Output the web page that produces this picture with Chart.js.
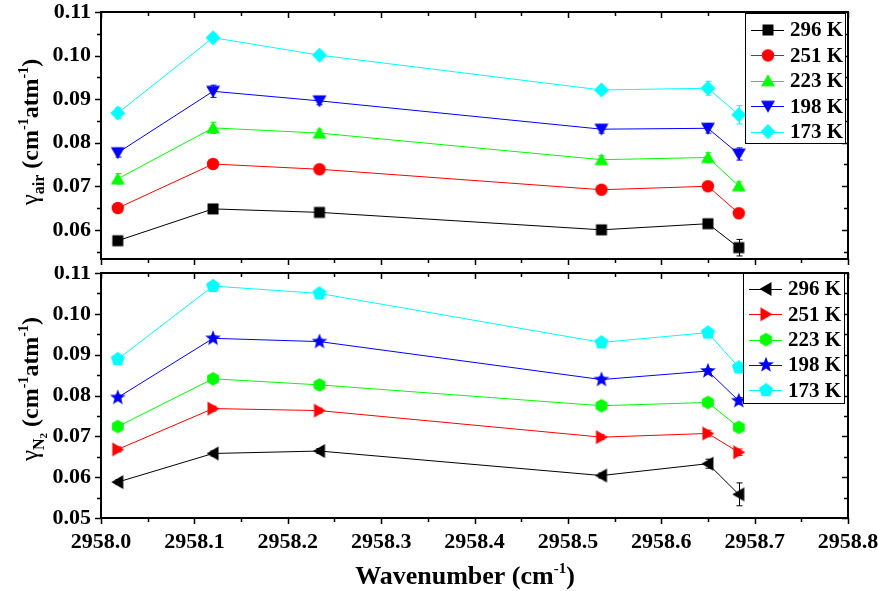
<!DOCTYPE html>
<html><head><meta charset="utf-8">
<script src="https://cdn.jsdelivr.net/npm/chart.js@4"></script>
<style>
html,body{margin:0;padding:0;background:#fff;}
#wrap{position:relative;width:878px;height:591px;}
canvas{position:absolute;left:0;}
#c1{top:0;width:878px;height:266px;}
#c2{top:266px;width:878px;height:325px;}
</style></head><body>
<div id="wrap"><canvas id="c1" width="878" height="266"></canvas><canvas id="c2" width="878" height="325"></canvas></div>
<script>
// ---------- data ----------
const xVals = [2958.018, 2958.120, 2958.234, 2958.536, 2958.650, 2958.683];
const seriesLabels = ['296 K', '251 K', '223 K', '198 K', '173 K'];
const xTicks = [2958.0, 2958.1, 2958.2, 2958.3, 2958.4, 2958.5, 2958.6, 2958.7, 2958.8];
const yTicksAir = [0.06, 0.07, 0.08, 0.09, 0.10, 0.11];
const yTicksN2 = [0.05, 0.06, 0.07, 0.08, 0.09, 0.10, 0.11];

// gamma_air
const air296 = [0.0575, 0.0648, 0.0640, 0.0600, 0.0614, 0.0559];
const air251 = [0.0650, 0.0751, 0.0739, 0.0692, 0.0700, 0.0638];
const air223 = [0.0717, 0.0834, 0.0822, 0.0761, 0.0766, 0.0701];
const air198 = [0.0777, 0.0918, 0.0896, 0.0831, 0.0833, 0.0774];
const air173 = [0.0868, 0.1041, 0.1001, 0.0921, 0.0925, 0.0864];
const errAir296 = [0.0006, 0.0006, 0.0006, 0.0006, 0.0008, 0.0019];
const errAir251 = [0.0006, 0.0006, 0.0006, 0.0006, 0.0006, 0.0008];
const errAir223 = [0.0012, 0.0013, 0.0009, 0.0009, 0.0011, 0.0009];
const errAir198 = [0.0010, 0.0014, 0.0009, 0.0009, 0.0011, 0.0014];
const errAir173 = [0.0012, 0.0009, 0.0009, 0.0007, 0.0016, 0.0021];

// gamma_N2
const n296 = [0.0588, 0.0658, 0.0664, 0.0604, 0.0633, 0.0558];
const n251 = [0.0668, 0.0768, 0.0763, 0.0698, 0.0707, 0.0661];
const n223 = [0.0724, 0.0841, 0.0826, 0.0775, 0.0783, 0.0722];
const n198 = [0.0795, 0.0940, 0.0932, 0.0839, 0.0860, 0.0787];
const n173 = [0.0889, 0.1068, 0.1050, 0.0930, 0.0954, 0.0869];
const errN296 = [0.0006, 0.0006, 0.0006, 0.0006, 0.0011, 0.0028];
const errN251 = [0.0006, 0.0006, 0.0006, 0.0006, 0.0008, 0.0008];
const errN223 = [0.0006, 0.0006, 0.0006, 0.0006, 0.0006, 0.0006];
const errN198 = [0.0006, 0.0006, 0.0006, 0.0006, 0.0006, 0.0008];
const errN173 = [0.0006, 0.0006, 0.0006, 0.0006, 0.0008, 0.0008];

const colors = ['#000000', '#ff0000', '#00ff00', '#0000ff', '#00ffff'];

// ---------- markers ----------
function mk(color, draw) {
  const c = document.createElement('canvas');
  c.width = 18; c.height = 18;
  const g = c.getContext('2d');
  g.fillStyle = color;
  g.beginPath();
  draw(g, 9);
  g.fill();
  return c;
}
function poly(g, pts) { g.moveTo(pts[0][0], pts[0][1]); for (let i = 1; i < pts.length; i++) g.lineTo(pts[i][0], pts[i][1]); g.closePath(); }
function regular(g, c, n, r, rot) { const p = []; for (let i = 0; i < n; i++) { const a = rot + i * 2 * Math.PI / n; p.push([c + r * Math.cos(a), c + r * Math.sin(a)]); } poly(g, p); }
function star(g, c, ro, ri) { const p = []; for (let i = 0; i < 10; i++) { const a = -Math.PI / 2 + i * Math.PI / 5; const r = i % 2 ? ri : ro; p.push([c + r * Math.cos(a), c + r * Math.sin(a)]); } poly(g, p); }

const airMarkers = [
  mk(colors[0], (g, c) => g.rect(c - 5.5, c - 5.5, 11, 11)),
  mk(colors[1], (g, c) => g.arc(c, c, 6.2, 0, Math.PI * 2)),
  mk(colors[2], (g, c) => poly(g, [[c, c - 6.5], [c + 7, c + 5.5], [c - 7, c + 5.5]])),
  mk(colors[3], (g, c) => poly(g, [[c, c + 6.5], [c + 7, c - 5.5], [c - 7, c - 5.5]])),
  mk(colors[4], (g, c) => poly(g, [[c, c - 7.5], [c + 7.5, c], [c, c + 7.5], [c - 7.5, c]]))
];
const n2Markers = [
  mk(colors[0], (g, c) => poly(g, [[c - 6.5, c], [c + 5.5, c - 7], [c + 5.5, c + 7]])),
  mk(colors[1], (g, c) => poly(g, [[c + 6.5, c], [c - 5.5, c - 7], [c - 5.5, c + 7]])),
  mk(colors[2], (g, c) => regular(g, c, 6, 6.8, -Math.PI / 2)),
  mk(colors[3], (g, c) => star(g, c, 8.3, 3.5)),
  mk(colors[4], (g, c) => regular(g, c, 5, 7.3, -Math.PI / 2))
];

function makeSets(arrs, errs, markers) {
  return arrs.map((a, i) => ({
    label: seriesLabels[i],
    data: a.map((v, k) => ({ x: xVals[k], y: v })),
    err: errs[i],
    borderColor: colors[i],
    backgroundColor: colors[i],
    borderWidth: 1,
    pointStyle: markers[i],
    pointRadius: 6,
    tension: 0,
    fill: false
  }));
}

// ---------- plugins ----------
const SERIF = '"Liberation Serif", "Times New Roman", serif';

const errPlugin = {
  id: 'errbars',
  beforeDatasetsDraw(chart) {
    const { ctx, scales: { x, y } } = chart;
    ctx.save();
    ctx.lineWidth = 1;
    chart.data.datasets.forEach(ds => {
      ctx.strokeStyle = ds.borderColor;
      ds.data.forEach((p, k) => {
        const e = ds.err[k];
        const px = Math.round(x.getPixelForValue(p.x)) + 0.5;
        const y1 = y.getPixelForValue(p.y - e), y2 = y.getPixelForValue(p.y + e);
        ctx.beginPath();
        ctx.moveTo(px, y1); ctx.lineTo(px, y2);
        ctx.moveTo(px - 3, y1); ctx.lineTo(px + 3, y1);
        ctx.moveTo(px - 3, y2); ctx.lineTo(px + 3, y2);
        ctx.stroke();
      });
    });
    ctx.restore();
  }
};

const framePlugin = {
  id: 'frame',
  afterDraw(chart, args, o) {
    const { ctx, chartArea: a, scales: { x, y } } = chart;
    ctx.save();
    ctx.strokeStyle = '#000';
    ctx.lineWidth = 1.5;
    const maj = 6, mino = 4;
    const xs = [];
    xTicks.forEach((v, i) => { xs.push([v, maj]); if (i < xTicks.length - 1) xs.push([(v + xTicks[i + 1]) / 2, mino]); });
    const yt = o.yTicks;
    const ys = [];
    yt.forEach((v, i) => { ys.push([v, maj]); if (i < yt.length - 1) ys.push([(v + yt[i + 1]) / 2, mino]); });
    const step = yt[1] - yt[0];
    if (yt[0] - step / 2 > y.min) ys.push([yt[0] - step / 2, mino]);
    ctx.beginPath();
    xs.forEach(([v, L]) => {
      const px = Math.round(x.getPixelForValue(v)) + 0.5;
      ctx.moveTo(px, a.bottom); ctx.lineTo(px, a.bottom + L);
      ctx.moveTo(px, a.top); ctx.lineTo(px, a.top + L);
    });
    ys.forEach(([v, L]) => {
      const py = Math.round(y.getPixelForValue(v)) + 0.5;
      ctx.moveTo(a.left, py); ctx.lineTo(a.left - L, py);
      ctx.moveTo(a.right, py); ctx.lineTo(a.right - L, py);
    });
    ctx.stroke();
    ctx.lineWidth = 2;
    ctx.strokeRect(a.left, a.top, a.right - a.left, a.bottom - a.top);
    ctx.restore();
  }
};

function drawRich(ctx, pieces, cx, base) {
  let w = 0;
  pieces.forEach(p => { ctx.font = p.f; p.w = ctx.measureText(p.t).width; w += p.w; });
  let xx = cx - w / 2;
  ctx.textBaseline = 'alphabetic';
  ctx.textAlign = 'left';
  pieces.forEach(p => { ctx.font = p.f; ctx.fillText(p.t, xx, base + (p.dy || 0)); xx += p.w; });
}

const titlePlugin = {
  id: 'titles',
  afterDraw(chart, args, o) {
    const ctx = chart.ctx;
    ctx.save();
    ctx.fillStyle = '#000';
    ctx.translate(o.yx, o.yc);
    ctx.rotate(-Math.PI / 2);
    drawRich(ctx, o.ypieces, 0, 0);
    ctx.restore();
    if (o.xpieces) {
      ctx.save();
      ctx.fillStyle = '#000';
      drawRich(ctx, o.xpieces, o.xc, o.xb);
      ctx.restore();
    }
  }
};

const legendPlugin = {
  id: 'boxlegend',
  afterDraw(chart, args, o) {
    const ctx = chart.ctx;
    ctx.save();
    ctx.fillStyle = '#fff';
    ctx.fillRect(o.x, o.y, o.w, o.h);
    ctx.strokeStyle = '#000';
    ctx.lineWidth = 1;
    ctx.strokeRect(o.x + 0.5, o.y + 0.5, o.w, o.h);
    chart.data.datasets.forEach((ds, i) => {
      const yy = o.y0 + i * o.dy;
      ctx.strokeStyle = ds.borderColor;
      ctx.lineWidth = 1;
      ctx.beginPath();
      ctx.moveTo(o.x + 6, Math.round(yy) + 0.5); ctx.lineTo(o.x + 39, Math.round(yy) + 0.5);
      ctx.stroke();
      const m = ds.pointStyle;
      ctx.drawImage(m, o.x + 23 - m.width / 2, yy - m.height / 2);
      ctx.fillStyle = '#000';
      ctx.font = 'bold 21px ' + SERIF;
      ctx.textBaseline = 'middle';
      ctx.textAlign = 'left';
      ctx.fillText(ds.label, o.x + 45, yy + 1);
    });
    ctx.restore();
  }
};

const tickFont = { family: SERIF, size: 22, weight: 'bold' };

function noOverflow(s) { s.paddingTop = 0; s.paddingBottom = 0; s.paddingLeft = 0; s.paddingRight = 0; }

function yScale(min, max, ticksArr) {
  return {
    type: 'linear', min: min, max: max,
    afterFit: s => { s.width = 101; noOverflow(s); },
    afterBuildTicks: s => { s.ticks = ticksArr.map(v => ({ value: v })); },
    grid: { display: false, drawTicks: false },
    border: { display: false },
    ticks: { color: '#000', font: tickFont, padding: 10, callback: v => v.toFixed(2) }
  };
}

// ---------- top chart ----------
new Chart(document.getElementById('c1'), {
  type: 'line',
  data: { datasets: makeSets([air296, air251, air223, air198, air173],
                             [errAir296, errAir251, errAir223, errAir198, errAir173], airMarkers) },
  options: {
    responsive: false, animation: false, events: [],
    layout: { padding: { left: 0, right: 30, top: 12, bottom: 6 } },
    scales: {
      x: { type: 'linear', display: false, min: 2958.0, max: 2958.8 },
      y: yScale(0.0533, 0.11, yTicksAir)
    },
    plugins: {
      legend: { display: false }, tooltip: { enabled: false },
      frame: { yTicks: yTicksAir },
      titles: {
        yx: 38, yc: 132,
        ypieces: [
          { t: 'γ', f: '25px ' + SERIF },
          { t: 'air', f: 'bold 16px ' + SERIF, dy: 6 },
          { t: ' (cm', f: 'bold 24px ' + SERIF },
          { t: '-1', f: 'bold 14px ' + SERIF, dy: -10 },
          { t: 'atm', f: 'bold 24px ' + SERIF },
          { t: '-1', f: 'bold 14px ' + SERIF, dy: -10 },
          { t: ')', f: 'bold 24px ' + SERIF }
        ]
      },
      boxlegend: { x: 745, y: 13, w: 100, h: 130, y0: 30, dy: 25.4 }
    }
  },
  plugins: [errPlugin, framePlugin, titlePlugin, legendPlugin]
});

// ---------- bottom chart ----------
new Chart(document.getElementById('c2'), {
  type: 'line',
  data: { datasets: makeSets([n296, n251, n223, n198, n173],
                             [errN296, errN251, errN223, errN198, errN173], n2Markers) },
  options: {
    responsive: false, animation: false, events: [],
    layout: { padding: { left: 0, right: 30, top: 5, bottom: 0 } },
    scales: {
      x: {
        type: 'linear', min: 2958.0, max: 2958.8,
        afterFit: s => { s.height = 73; noOverflow(s); },
        afterBuildTicks: s => { s.ticks = xTicks.map(v => ({ value: v })); },
        grid: { display: false, drawTicks: false },
        border: { display: false },
        ticks: { color: '#000', font: tickFont, padding: 11, maxRotation: 0, autoSkip: false, callback: v => v.toFixed(1) }
      },
      y: yScale(0.05, 0.11, yTicksN2)
    },
    plugins: {
      legend: { display: false }, tooltip: { enabled: false },
      frame: { yTicks: yTicksN2 },
      titles: {
        yx: 38, yc: 389 - 266,
        ypieces: [
          { t: 'γ', f: '25px ' + SERIF },
          { t: 'N', f: 'bold 16px ' + SERIF, dy: 6 },
          { t: '2', f: 'bold 11px ' + SERIF, dy: 9 },
          { t: ' (cm', f: 'bold 24px ' + SERIF },
          { t: '-1', f: 'bold 14px ' + SERIF, dy: -10 },
          { t: 'atm', f: 'bold 24px ' + SERIF },
          { t: '-1', f: 'bold 14px ' + SERIF, dy: -10 },
          { t: ')', f: 'bold 24px ' + SERIF }
        ],
        xc: 465, xb: 584 - 266,
        xpieces: [
          { t: 'Wavenumber (cm', f: 'bold 26px ' + SERIF },
          { t: '-1', f: 'bold 15px ' + SERIF, dy: -11 },
          { t: ')', f: 'bold 26px ' + SERIF }
        ]
      },
      boxlegend: { x: 743, y: 273 - 266, w: 101, h: 130, y0: 289 - 266, dy: 25.3 }
    }
  },
  plugins: [errPlugin, framePlugin, titlePlugin, legendPlugin]
});
</script>
</body></html>
